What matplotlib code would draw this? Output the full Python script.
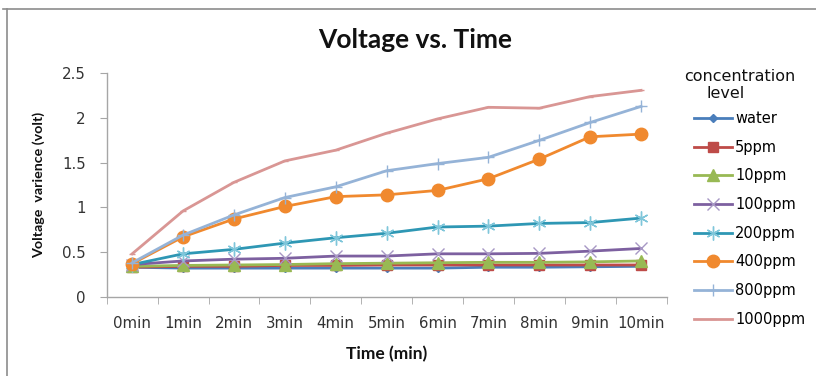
import matplotlib
matplotlib.use("Agg")
import matplotlib.pyplot as plt
from matplotlib.lines import Line2D

# Time points (category axis)
times = ["0min", "1min", "2min", "3min", "4min", "5min",
         "6min", "7min", "8min", "9min", "10min"]

# Voltage readings per concentration level (volt)
water   = [0.33, 0.32, 0.32, 0.32, 0.32, 0.32, 0.32, 0.33, 0.33, 0.335, 0.34]
ppm5    = [0.33, 0.34, 0.34, 0.35, 0.35, 0.355, 0.355, 0.355, 0.355, 0.355, 0.355]
ppm10   = [0.34, 0.35, 0.355, 0.36, 0.37, 0.375, 0.38, 0.385, 0.385, 0.39, 0.40]
ppm100  = [0.36, 0.40, 0.42, 0.43, 0.455, 0.455, 0.48, 0.48, 0.485, 0.51, 0.54]
ppm200  = [0.36, 0.48, 0.53, 0.60, 0.66, 0.71, 0.78, 0.79, 0.82, 0.83, 0.88]
ppm400  = [0.37, 0.67, 0.87, 1.01, 1.12, 1.14, 1.19, 1.32, 1.54, 1.79, 1.82]
ppm800  = [0.38, 0.69, 0.915, 1.11, 1.23, 1.41, 1.49, 1.56, 1.75, 1.95, 2.13]
ppm1000 = [0.48, 0.96, 1.28, 1.52, 1.64, 1.83, 1.99, 2.12, 2.11, 2.24, 2.31]

labels = ["water", "5ppm", "10ppm", "100ppm", "200ppm", "400ppm", "800ppm", "1000ppm"]
series = [water, ppm5, ppm10, ppm100, ppm200, ppm400, ppm800, ppm1000]

# line colour, marker, marker size, marker face, marker edge
styles = [
    ("#4A7EBB", "D", 4.5, "#4A7EBB", "#4A7EBB"),
    ("#BE4B48", "s", 7.5, "#BE4B48", "#BE4B48"),
    ("#98B954", "^", 8.5, "#98B954", "#98B954"),
    ("#7D60A0", "x", 8.5, "none", "#A797C4"),
    ("#2E97B4", (6, 2, 0), 10, "none", "#7FC6DA"),
    ("#F0892E", "o", 9, "#F0892E", "#F0892E"),
    ("#95B3D7", "+", 9, "none", "#95B3D7"),
    ("#D99694", "_", 5, "none", "#D99694"),
]

plt.rcParams["font.family"] = ["DejaVu Sans"]

fig = plt.figure(figsize=(8.16, 3.76), dpi=100)
ax = fig.add_axes([0.1308, 0.2109, 0.686, 0.594])

x = list(range(len(times)))
handles = []
for vals, lab, (col, mk, ms, mfc, mec) in zip(series, labels, styles):
    h, = ax.plot(x, vals, color=col, lw=2.0, marker=mk, ms=ms,
                 mfc=mfc, mec=mec, mew=1.0, label=lab)
    handles.append(h)

ax.set_xlim(-0.5, len(times) - 0.5)
ax.set_ylim(0, 2.5)
ax.set_yticks([0, 0.5, 1, 1.5, 2, 2.5])
ax.set_yticklabels(["0", "0.5", "1", "1.5", "2", "2.5"])
ax.set_xticks(x)
ax.set_xticklabels(times)
ax.set_xticks([i - 0.5 for i in range(len(times) + 1)], minor=True)

for s in ("top", "right"):
    ax.spines[s].set_visible(False)
for s in ("left", "bottom"):
    ax.spines[s].set_color("#a6a6a6")
    ax.spines[s].set_linewidth(1.0)

ax.tick_params(axis="x", which="major", length=0, pad=14, labelsize=10.8,
               colors="#333333")
ax.tick_params(axis="x", which="minor", length=5, color="#a6a6a6", direction="out")
ax.tick_params(axis="y", length=5, color="#a6a6a6", direction="out",
               labelsize=10.8, colors="#333333", pad=10)

ax.set_xlabel("Time (min)", family="Lato", fontweight="bold", fontsize=12.5,
              labelpad=11, color="#111111")
ax.set_ylabel("Voltage  varience (volt)", family="Lato", fontweight="bold",
              fontsize=10.3, labelpad=12, color="#111111")
fig.text(0.509, 0.893, "Voltage vs. Time", family="Lato", fontweight="bold",
         fontsize=19, ha="center", va="center", color="#111111")

leg = fig.legend(handles=handles, labels=labels, loc="upper left",
                 bbox_to_anchor=(0.850, 0.705), frameon=False,
                 fontsize=10.5, handlelength=2.6, handletextpad=0.25,
                 labelspacing=0.94, borderaxespad=0, borderpad=0)
fig.text(0.906, 0.796, "concentration", fontsize=11.5, ha="center",
         va="center", color="#111111")
fig.text(0.889, 0.752, "level", fontsize=11.5, ha="center",
         va="center", color="#111111")

# outer chart frame (top and left edges)
fig.add_artist(Line2D([0.004, 1.0], [0.977, 0.977], color="#8c8c8c", lw=1.2,
                      transform=fig.transFigure))
fig.add_artist(Line2D([0.008, 0.008], [0.0, 0.977], color="#8c8c8c", lw=1.2,
                      transform=fig.transFigure))

fig.savefig("out.png", dpi=100)
